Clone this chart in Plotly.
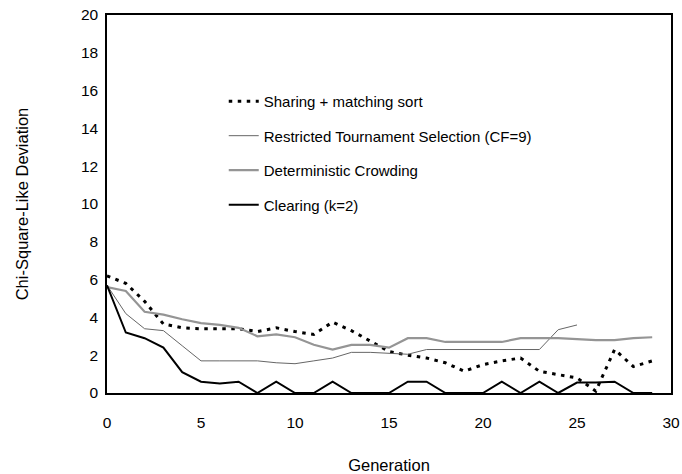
import plotly.graph_objects as go

generations = list(range(30))
gen_rts = list(range(26))

sharing = [6.2, 5.8, 4.85, 3.65, 3.45, 3.4, 3.4, 3.4, 3.25, 3.45, 3.25, 3.1, 3.75, 3.3, 2.75,
           2.2, 2.0, 1.85, 1.6, 1.15, 1.5, 1.7, 1.85, 1.15, 0.97, 0.8, 0.1, 2.3, 1.4, 1.7]
rts = [5.7, 4.2, 3.4, 3.3, 2.5, 1.7, 1.7, 1.7, 1.7, 1.6, 1.55, 1.7, 1.85, 2.15, 2.15,
       2.1, 2.05, 2.3, 2.3, 2.3, 2.3, 2.3, 2.3, 2.3, 3.35, 3.6]
crowding = [5.6, 5.4, 4.3, 4.15, 3.9, 3.7, 3.6, 3.45, 3.0, 3.1, 2.95, 2.55, 2.3, 2.55, 2.55,
            2.4, 2.9, 2.9, 2.7, 2.7, 2.7, 2.7, 2.9, 2.9, 2.9, 2.85, 2.8, 2.8, 2.9, 2.95]
clearing = [5.7, 3.2, 2.9, 2.4, 1.1, 0.6, 0.5, 0.6, 0.0, 0.6, 0.0, 0.0, 0.6, 0.0, 0.0,
            0.0, 0.6, 0.6, 0.0, 0.0, 0.0, 0.6, 0.0, 0.6, 0.0, 0.55, 0.55, 0.6, 0.0, 0.0]

names = ["Sharing + matching sort", "Restricted Tournament Selection (CF=9)",
         "Deterministic Crowding", "Clearing (k=2)"]

x_ticks = [0, 5, 10, 15, 20, 25, 30]
y_ticks = list(range(0, 21, 2))

FONT = "Liberation Sans, Arial, sans-serif"

fig = go.Figure()
fig.add_trace(go.Scatter(x=generations, y=sharing, mode="lines", name=names[0], legendgroup="a",
                         line=dict(color="black", width=3, dash="3.5px,5.5px")))
fig.add_trace(go.Scatter(x=gen_rts, y=rts, mode="lines", name=names[1], legendgroup="b",
                         line=dict(color="#666666", width=1)))
fig.add_trace(go.Scatter(x=generations, y=crowding, mode="lines", name=names[2], legendgroup="c",
                         line=dict(color="#959595", width=2.2)))
fig.add_trace(go.Scatter(x=generations, y=clearing, mode="lines", name=names[3], legendgroup="d",
                         line=dict(color="black", width=2)))

fig.update_layout(
    width=682, height=474,
    margin=dict(l=107, r=11, t=15, b=81, autoexpand=False),
    paper_bgcolor="white", plot_bgcolor="white",
    font=dict(family=FONT, size=15, color="black"),
    showlegend=True,
    legend=dict(x=0.207, y=0.815, xanchor="left", yanchor="top",
                bgcolor="rgba(0,0,0,0)", font=dict(size=15, family=FONT),
                tracegroupgap=12, traceorder="grouped"),
    xaxis=dict(range=[0, 30], tickvals=x_ticks, showgrid=False, zeroline=False,
               showline=True, linecolor="black", linewidth=1.5, mirror=True,
               automargin=False,
               ticks="", ticklabelstandoff=15, tickfont=dict(size=15.5),
               title=dict(text="Generation", standoff=29, font=dict(size=16.5))),
    yaxis=dict(range=[0, 20], tickvals=y_ticks, showgrid=False, zeroline=False,
               showline=True, linecolor="black", linewidth=1.5, mirror=True,
               automargin=False,
               ticks="", ticklabelstandoff=4, tickfont=dict(size=15.5),
               title=dict(text="Chi-Square-Like Deviation", standoff=48, font=dict(size=16.5))),
)

fig.write_html("out.html", config={"displayModeBar": False},
               post_script="document.body.style.margin='0';")
